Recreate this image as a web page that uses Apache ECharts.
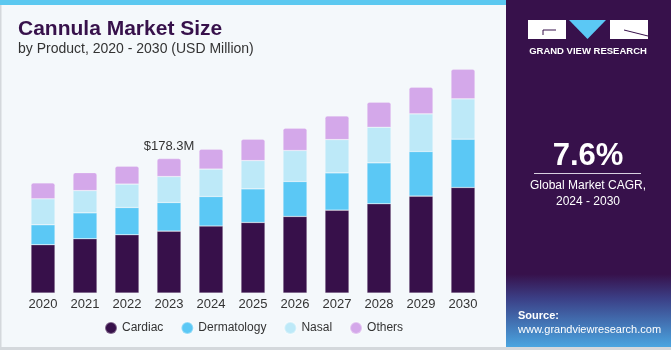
<!DOCTYPE html>
<html>
<head>
<meta charset="utf-8">
<script src="https://cdn.jsdelivr.net/npm/echarts@6/dist/echarts.min.js"></script>
<style>
  html, body { margin: 0; padding: 0; background: #fff; }
  #chart { width: 671px; height: 350px; }
</style>
</head>
<body>
<div id="chart"></div>
<script>
// data (USD Million)
var years = ['2020', '2021', '2022', '2023', '2024', '2025', '2026', '2027', '2028', '2029', '2030'];
var cardiac = [64.0, 71.9, 77.2, 82.1, 88.8, 93.5, 101.5, 109.9, 118.3, 128.5, 139.9];
var dermatology = [26.5, 34.4, 36.2, 37.9, 39.2, 44.6, 46.4, 49.4, 54.3, 59.1, 64.1];
var nasal = [34.4, 29.5, 31.0, 34.4, 36.3, 37.5, 41.1, 44.1, 47.3, 49.9, 53.4];
var others = [21.2, 23.8, 23.8, 23.9, 26.5, 28.3, 29.7, 31.4, 33.1, 35.4, 39.3];
var labelIndex = 3;
var labelText = '$178.3M';

var colors = ['#37104a', '#5bc8f5', '#bde9f8', '#d4a8ea'];
var font = '"Liberation Sans", Arial, sans-serif';

var chart = echarts.init(document.getElementById('chart'));

function mkSeries(name, data, idx) {
  var s = {
    name: name,
    type: 'bar',
    stack: 'total',
    data: data,
    barWidth: 24,
    itemStyle: {
      color: colors[idx],
      borderColor: 'rgba(255,255,255,0.35)',
      borderWidth: 0.6
    },
    emphasis: { disabled: true }
  };
  if (idx === 3) {
    s.itemStyle.borderRadius = [2, 2, 0, 0];
    s.label = {
      show: true,
      position: 'top',
      distance: 6,
      color: '#333',
      fontFamily: font,
      fontSize: 13,
      formatter: function (p) {
        return p.dataIndex === labelIndex ? labelText : '';
      }
    };
  }
  return s;
}

var option = {
  animation: false,
  backgroundColor: '#f4f8fb',
  textStyle: { fontFamily: font },
  grid: { left: 22, width: 462, top: 60, bottom: 57 },
  xAxis: {
    type: 'category',
    data: years,
    axisLine: { show: false },
    axisTick: { show: false },
    axisLabel: { color: '#333', fontSize: 13, margin: 5, fontFamily: font }
  },
  yAxis: {
    type: 'value',
    min: 0,
    max: 309,
    show: false,
    splitLine: { show: false }
  },
  legend: {
    left: 99,
    top: 316,
    icon: 'circle',
    itemWidth: 12,
    itemHeight: 12,
    itemGap: 17,
    textStyle: { color: '#333', fontSize: 12, fontFamily: font },
    data: ['Cardiac', 'Dermatology', 'Nasal', 'Others']
  },
  graphic: [
    // frame lines and top stripe
    { type: 'rect', z: -1, shape: { x: 0, y: 0, width: 506, height: 5 }, style: { fill: '#5bc8f0' } },
    { type: 'rect', z: -1, shape: { x: 0, y: 5, width: 1.5, height: 343 }, style: { fill: '#d4d8dc' } },
    { type: 'rect', z: -1, shape: { x: 0, y: 347, width: 671, height: 3 }, style: { fill: '#d4d8dc' } },
    // right panel
    {
      type: 'rect', z: -1,
      shape: { x: 506, y: 0, width: 165, height: 347 },
      style: {
        fill: new echarts.graphic.LinearGradient(0, 0, 0, 1, [
          { offset: 0, color: '#37114b' },
          { offset: 0.79, color: '#37114b' },
          { offset: 0.86, color: '#3b3f86' },
          { offset: 1, color: '#4aa5e0' }
        ])
      }
    },
    // logo
    { type: 'rect', shape: { x: 528, y: 20, width: 38, height: 19 }, style: { fill: '#fff' } },
    { type: 'polyline', shape: { points: [[543, 35], [543, 30], [556, 30]] }, style: { stroke: '#37114b', lineWidth: 1, fill: null } },
    { type: 'polygon', shape: { points: [[569, 20], [606, 20], [587.5, 39]] }, style: { fill: '#5bc8f5' } },
    { type: 'rect', shape: { x: 610, y: 20, width: 38, height: 19 }, style: { fill: '#fff' } },
    { type: 'line', shape: { x1: 624, y1: 30, x2: 648, y2: 36 }, style: { stroke: '#37114b', lineWidth: 1 } },
    {
      type: 'text', x: 588, y: 51,
      style: { text: 'GRAND VIEW RESEARCH', fill: '#fff', font: 'bold 9.5px ' + font, align: 'center', verticalAlign: 'middle' }
    },
    // CAGR block
    {
      type: 'text', x: 588, y: 156,
      style: { text: '7.6%', fill: '#fff', font: 'bold 31px ' + font, align: 'center', verticalAlign: 'middle' }
    },
    { type: 'rect', shape: { x: 534, y: 173, width: 107, height: 1 }, style: { fill: '#d8d0e0' } },
    {
      type: 'text', x: 588, y: 186,
      style: { text: 'Global Market CAGR,', fill: '#fff', font: '12px ' + font, align: 'center', verticalAlign: 'middle' }
    },
    {
      type: 'text', x: 588, y: 202,
      style: { text: '2024 - 2030', fill: '#fff', font: '12px ' + font, align: 'center', verticalAlign: 'middle' }
    },
    // source
    {
      type: 'text', x: 518, y: 316,
      style: { text: 'Source:', fill: '#fff', font: 'bold 11px ' + font, verticalAlign: 'middle' }
    },
    {
      type: 'text', x: 518, y: 330,
      style: { text: 'www.grandviewresearch.com', fill: '#fff', font: '11px ' + font, verticalAlign: 'middle' }
    },
    // title
    {
      type: 'text', x: 18, y: 29,
      style: { text: 'Cannula Market Size', fill: '#37114b', font: '900 21px ' + font, verticalAlign: 'middle' }
    },
    {
      type: 'text', x: 18, y: 49,
      style: { text: 'by Product, 2020 - 2030 (USD Million)', fill: '#333', font: '14px ' + font, verticalAlign: 'middle' }
    }
  ],
  series: [
    mkSeries('Cardiac', cardiac, 0),
    mkSeries('Dermatology', dermatology, 1),
    mkSeries('Nasal', nasal, 2),
    mkSeries('Others', others, 3)
  ]
};

chart.setOption(option);
</script>
</body>
</html>
